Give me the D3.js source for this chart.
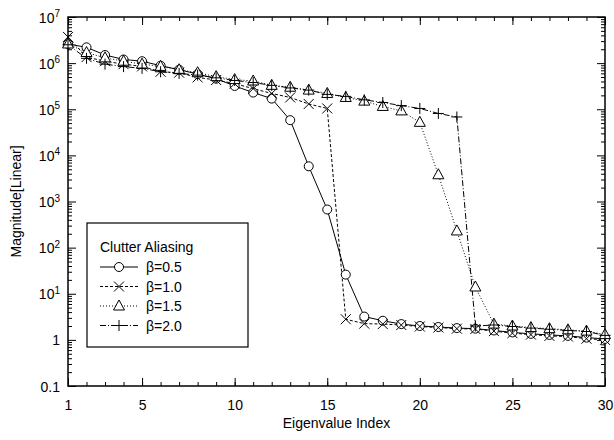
<!DOCTYPE html>
<html>
<head>
<script src="https://d3js.org/d3.v7.min.js"></script>
<style>
  body { margin: 0; background: #fff; }
  text { font-family: "Liberation Sans", Arial, sans-serif; fill: #000; }
</style>
</head>
<body>
<div id="chart"></div>
<script>
// eigenvalue index 1..30
var idx = d3.range(1, 31);

// magnitudes
var beta05 = [2.6e6, 2.2e6, 1.5e6, 1.2e6, 1.1e6, 8.8e5, 7.2e5, 5.8e5, 4.6e5, 3.2e5,
              2.3e5, 1.7e5, 5.8e4, 5.8e3, 670, 26, 3.2, 2.6, 2.2, 2.0,
              1.9, 1.8, 1.75, 1.6, 1.45, 1.35, 1.28, 1.22, 1.12, 1.05];
var beta10 = [3.7e6, 1.35e6, 1.1e6, 9.5e5, 8.5e5, 6.5e5, 6.2e5, 4.9e5, 4.3e5, 3.6e5,
              2.8e5, 2.2e5, 1.8e5, 1.3e5, 1.04e5, 2.8, 2.25, 2.2, 2.1, 1.95,
              1.85, 1.75, 1.72, 1.55, 1.4, 1.3, 1.22, 1.18, 1.06, 1.0];
var beta15 = [2.6e6, 1.7e6, 1.3e6, 1.1e6, 9.5e5, 8.5e5, 7.2e5, 6.2e5, 5.1e5, 4.4e5,
              4.1e5, 3.3e5, 3.0e5, 2.6e5, 2.2e5, 1.8e5, 1.5e5, 1.15e5, 9.2e4, 5.2e4,
              3.8e3, 230, 14, 2.2, 2.0, 1.85, 1.75, 1.65, 1.55, 1.3];
var beta20 = [2.5e6, 1.27e6, 9.5e5, 8.4e5, 7.7e5, 6.5e5, 6.0e5, 5.5e5, 4.8e5, 4.2e5,
              3.8e5, 3.3e5, 2.9e5, 2.6e5, 2.1e5, 1.9e5, 1.6e5, 1.4e5, 1.2e5, 1.04e5,
              8.1e4, 6.8e4, 2.0, 2.1, 1.95, 1.8, 1.7, 1.6, 1.52, 1.25];

var seriesNames = ["\u03b2=0.5", "\u03b2=1.0", "\u03b2=1.5", "\u03b2=2.0"];
var xMajor = [1, 5, 10, 15, 20, 25, 30];
var yMajor = [0.1, 1, 10, 100, 1e3, 1e4, 1e5, 1e6, 1e7];

var W = 614, H = 440;
var mLeft = 68, mRight = 605, mTop = 17, mBottom = 386;

var svg = d3.select("#chart").append("svg")
  .attr("width", W).attr("height", H);

var x = d3.scaleLinear().domain([1, 30]).range([mLeft, mRight]);
var y = d3.scaleLog().domain([0.1, 1e7]).range([mBottom, mTop]);

// minor y ticks
var yMinor = [];
yMajor.slice(0, -1).forEach(function(d) {
  for (var k = 2; k <= 9; k++) yMinor.push(d * k);
});

function styleAxis(g) {
  g.select(".domain").remove();
  g.selectAll("line").attr("stroke", "#000").attr("stroke-width", 1);
}

// bottom
svg.append("g").attr("transform", "translate(0," + mBottom + ")")
  .call(d3.axisBottom(x).tickValues(idx).tickSize(-4).tickFormat(""))
  .call(styleAxis);
svg.append("g").attr("transform", "translate(0," + mBottom + ")")
  .call(d3.axisBottom(x).tickValues(xMajor).tickSize(-8).tickPadding(14).tickFormat(d3.format("d")))
  .call(styleAxis)
  .selectAll("text").attr("font-size", 14).attr("font-family", "Liberation Sans, Arial, sans-serif");
// top
svg.append("g").attr("transform", "translate(0," + mTop + ")")
  .call(d3.axisTop(x).tickValues(idx).tickSize(-4).tickFormat(""))
  .call(styleAxis);
svg.append("g").attr("transform", "translate(0," + mTop + ")")
  .call(d3.axisTop(x).tickValues(xMajor).tickSize(-8).tickFormat(""))
  .call(styleAxis);
// left
svg.append("g").attr("transform", "translate(" + mLeft + ",0)")
  .call(d3.axisLeft(y).tickValues(yMinor).tickSize(-4).tickFormat(""))
  .call(styleAxis);
var yl = svg.append("g").attr("transform", "translate(" + mLeft + ",0)")
  .call(d3.axisLeft(y).tickValues(yMajor).tickSize(-8).tickPadding(16).tickFormat(""))
  .call(styleAxis);
// right
svg.append("g").attr("transform", "translate(" + mRight + ",0)")
  .call(d3.axisRight(y).tickValues(yMinor).tickSize(-4).tickFormat(""))
  .call(styleAxis);
svg.append("g").attr("transform", "translate(" + mRight + ",0)")
  .call(d3.axisRight(y).tickValues(yMajor).tickSize(-8).tickFormat(""))
  .call(styleAxis);

// y tick labels with superscripts
yl.selectAll(".tick text").each(function(d) {
  var t = d3.select(this).attr("font-size", 14).attr("x", -8).attr("dy", "0.36em")
    .attr("font-family", "Liberation Sans, Arial, sans-serif");
  var e = Math.round(Math.log10(d));
  if (e === -1) t.text("0.1");
  else if (e === 0) t.text("1");
  else {
    t.text("10");
    t.append("tspan").attr("dy", "-0.55em").attr("font-size", 10).text(e);
  }
});

// frame
svg.append("rect").attr("x", mLeft).attr("y", mTop)
  .attr("width", mRight - mLeft).attr("height", mBottom - mTop)
  .attr("fill", "none").attr("stroke", "#000").attr("stroke-width", 1.5);

// axis titles
svg.append("text").attr("x", (mLeft + mRight) / 2).attr("y", 428)
  .attr("text-anchor", "middle").attr("font-size", 14).text("Eigenvalue Index");
svg.append("text").attr("transform", "translate(21," + ((mTop + mBottom) / 2) + ") rotate(-90)")
  .attr("text-anchor", "middle").attr("font-size", 14).text("Magnitude[Linear]");

// series
var dashes = [null, "3,2", "1,2", "6,2,1,2"];
var allSeries = [beta05, beta10, beta15, beta20];

var line = d3.line().x(function(d, i) { return x(idx[i]); }).y(function(d) { return y(d); });

function drawMarker(g, type, cx, cy) {
  if (type === 0) {
    g.append("circle").attr("cx", cx).attr("cy", cy).attr("r", 4.5)
      .attr("fill", "#fff").attr("stroke", "#000").attr("stroke-width", 1);
  } else if (type === 1) {
    var s = 5;
    g.append("path").attr("d", "M" + (cx - s) + "," + (cy - s) + "L" + (cx + s) + "," + (cy + s) +
      "M" + (cx - s) + "," + (cy + s) + "L" + (cx + s) + "," + (cy - s))
      .attr("stroke", "#000").attr("stroke-width", 1).attr("fill", "none");
  } else if (type === 2) {
    g.append("path").attr("d", "M" + cx + "," + (cy - 6) + "L" + (cx + 5.5) + "," + (cy + 4) +
      "L" + (cx - 5.5) + "," + (cy + 4) + "Z")
      .attr("stroke", "#000").attr("stroke-width", 1).attr("fill", "#fff");
  } else {
    var p = 5.5;
    g.append("path").attr("d", "M" + (cx - p) + "," + cy + "L" + (cx + p) + "," + cy +
      "M" + cx + "," + (cy - p) + "L" + cx + "," + (cy + p))
      .attr("stroke", "#000").attr("stroke-width", 1).attr("fill", "none");
  }
}

allSeries.forEach(function(s, k) {
  svg.append("path").datum(s).attr("d", line)
    .attr("fill", "none").attr("stroke", "#000").attr("stroke-width", 1)
    .attr("stroke-dasharray", dashes[k]);
});
allSeries.forEach(function(s, k) {
  var g = svg.append("g");
  s.forEach(function(v, i) { drawMarker(g, k, x(idx[i]), y(v)); });
});

// legend
var lg = svg.append("g");
lg.append("rect").attr("x", 87).attr("y", 223).attr("width", 161).attr("height", 124)
  .attr("fill", "#fff").attr("stroke", "#000").attr("stroke-width", 1.2);
lg.append("text").attr("x", 100).attr("y", 252).attr("font-size", 14).text("Clutter Aliasing");
seriesNames.forEach(function(n, k) {
  var ly = 267 + k * 19.5;
  lg.append("line").attr("x1", 100).attr("x2", 138).attr("y1", ly).attr("y2", ly)
    .attr("stroke", "#000").attr("stroke-width", 1).attr("stroke-dasharray", dashes[k]);
  drawMarker(lg, k, 119, ly);
  lg.append("text").attr("x", 146).attr("y", ly + 5).attr("font-size", 14).text(n);
});
</script>
</body>
</html>
